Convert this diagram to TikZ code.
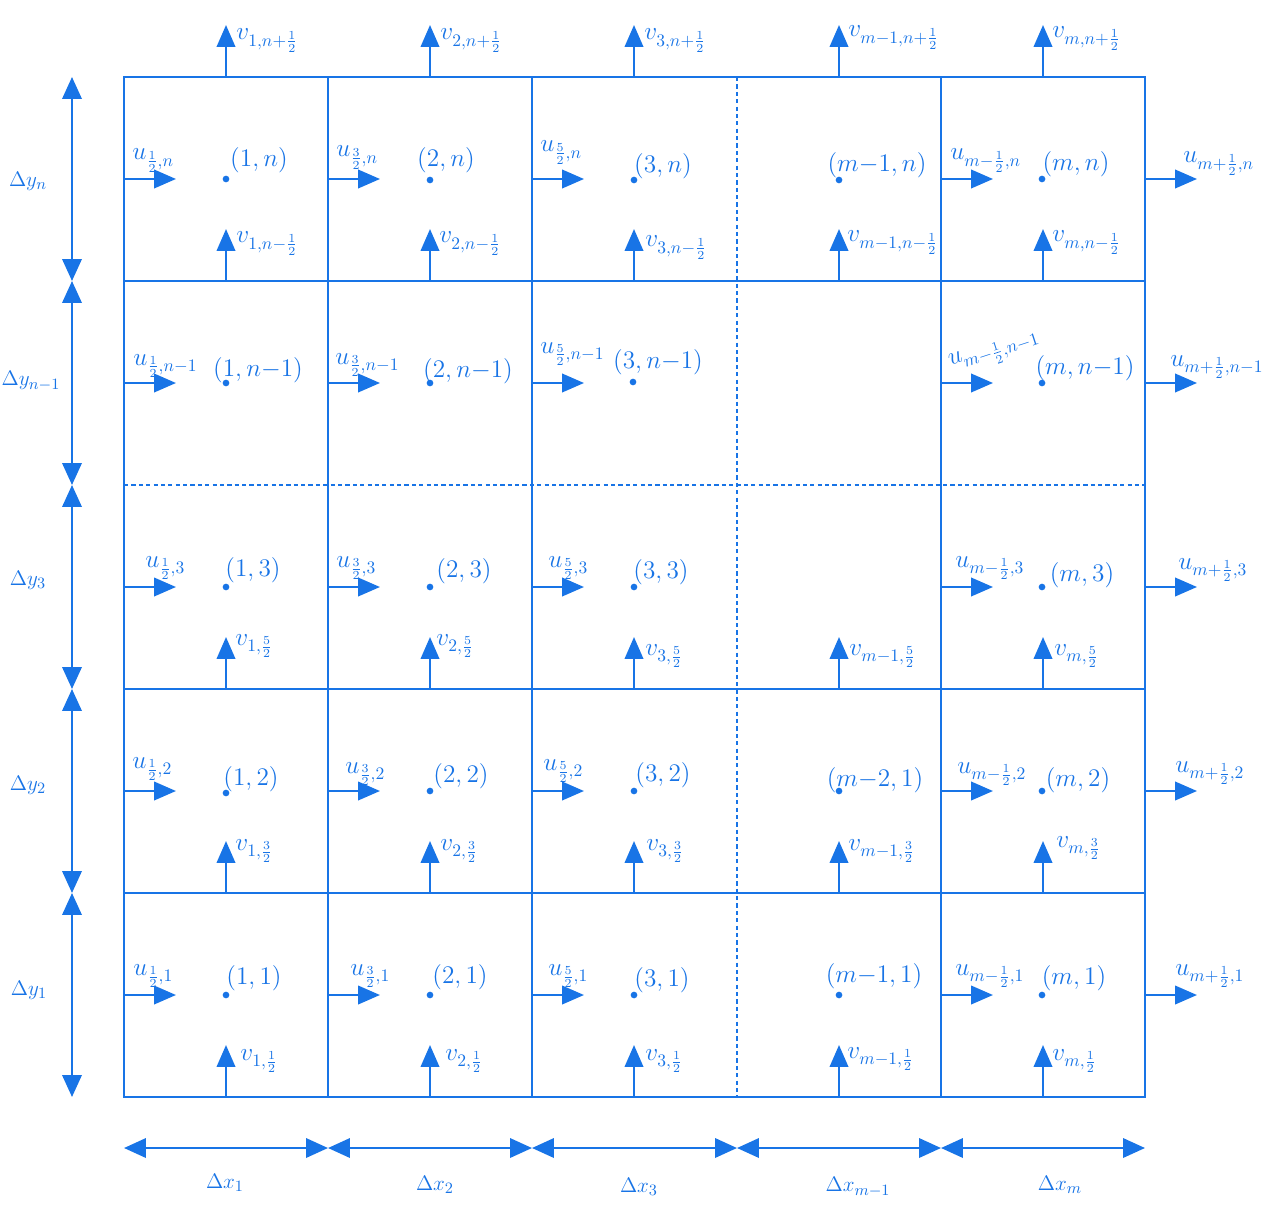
\documentclass[tikz,border=0pt]{standalone}
\usetikzlibrary{arrows.meta}
\definecolor{gblue}{RGB}{24,116,230}
\newcommand{\hfr}[2]{\frac{#1\rule[-0.9pt]{0pt}{0pt}}{\rule{0pt}{5.6pt}#2}}
\begin{document}
\begin{tikzpicture}[x=0.02cm,y=-0.02cm,
  gridl/.style={gblue,line width=1.4pt},
  gridd/.style={gblue,line width=0.9pt,dash pattern=on 2.4pt off 1.8pt},
  vec/.style={gblue,line width=1.4pt,-{Triangle[length=12.5pt,width=10.5pt]}},
  dimarr/.style={gblue,line width=1.4pt,{Triangle[length=12.5pt,width=11pt]}-{Triangle[length=12.5pt,width=11pt]}},
  lab/.style={text=gblue,font=\fontsize{14}{16}\selectfont,inner sep=0pt},
  ul/.style={lab,anchor=base west},
  cl/.style={lab,anchor=center},
  dlab/.style={text=gblue,font=\fontsize{13}{15}\selectfont,inner sep=0pt,anchor=center},
  pt/.style={circle,fill=gblue,inner sep=0pt,minimum size=3.8pt}]
\useasboundingbox (0,0) rectangle (1280,1216);

% grid corners
\foreach \i/\x in {0/124,1/328,2/532,3/737,4/941,5/1145}
  \foreach \j/\y in {0/77,1/281,2/485,3/689,4/893,5/1097}
    \coordinate (g\i\j) at (\x,\y);

% dashed lines
\draw[gridd] (g30) -- (g35);
\draw[gridd] (g02) -- (g52);
% solid lines
\draw[gridl] (g00) rectangle (g55);
\foreach \i in {1,2,4} \draw[gridl] (g\i0) -- (g\i5);
\foreach \j in {1,3,4} \draw[gridl] (g0\j) -- (g5\j);

% u arrows
\foreach \x in {124,328,532,941,1145}
  \foreach \y in {179,383,587,791,995}{
    \coordinate (us-\x-\y) at (\x,\y);
    \coordinate (ue-\x-\y) at (\x+52,\y);
    \draw[vec] (us-\x-\y) -- (ue-\x-\y);
  }
% v arrows
\foreach \x in {226,430,634,839,1043}
  \foreach \y in {77,281,689,893,1097}{
    \coordinate (vs-\x-\y) at (\x,\y);
    \coordinate (ve-\x-\y) at (\x,\y-52);
    \draw[vec] (vs-\x-\y) -- (ve-\x-\y);
  }

% dimension arrows
\foreach \j/\y in {0/77,1/281,2/485,3/689,4/893,5/1097} \coordinate (ly\j) at (72,\y);
\foreach \i/\x in {0/124,1/328,2/532,3/737,4/941,5/1145} \coordinate (lx\i) at (\x,1148);
\foreach \a/\b in {0/1,1/2,2/3,3/4,4/5}{
  \draw[dimarr] (ly\a) -- (ly\b);
  \draw[dimarr] (lx\a) -- (lx\b);
}
\node[dlab] (dyn) at (28,181) {$\Delta y_n$};
\node[dlab] (dyn1) at (31,381) {$\Delta y_{n-1}$};
\node[dlab] (dy3) at (28,580) {$\Delta y_3$};
\node[dlab] (dy2) at (28,785) {$\Delta y_2$};
\node[dlab] (dy1) at (29,990) {$\Delta y_1$};
\node[dlab] (dx1) at (225,1183) {$\Delta x_1$};
\node[dlab] (dx2) at (435,1185) {$\Delta x_2$};
\node[dlab] (dx3) at (639,1187) {$\Delta x_3$};
\node[dlab] (dxm1) at (858,1187) {$\Delta x_{m-1}$};
\node[dlab] (dxm) at (1060,1185) {$\Delta x_m$};

% dots
\foreach \nm/\x/\y in {a1/226/179,a2/430/180,a3/634/180,a4/839/180,a5/1042/179,
  b1/226/383,b2/430/383,b3/633/382,b5/1042/383,
  c1/226/587,c2/430/587,c3/634/587,c5/1042/587,
  d1/226/793,d2/430/791,d3/634/791,d4/839/791,d5/1042/791,
  e1/226/995,e2/430/995,e3/634/995,e4/839/995,e5/1042/995}
  \node[pt] (p\nm) at (\x,\y) {};

% top v labels
\node[ul] (vt1) at (236,40) {$v_{1,n+\hfr{1}{2}}$};
\node[ul] (vt2) at (440,40) {$v_{2,n+\hfr{1}{2}}$};
\node[ul] (vt3) at (644,40) {$v_{3,n+\hfr{1}{2}}$};
\node[ul] (vt4) at (848,37) {$v_{m-1,n+\hfr{1}{2}}$};
\node[ul] (vt5) at (1052,38) {$v_{m,n+\hfr{1}{2}}$};

% row n
\node[ul] (ua1) at (132,160) {$u_{\hfr{1}{2},n}$};
\node[cl] (ca1) at (259,160) {$(1,n)$};
\node[ul] (va1) at (236,243) {$v_{1,n-\hfr{1}{2}}$};
\node[ul] (ua2) at (336,157) {$u_{\hfr{3}{2},n}$};
\node[cl] (ca2) at (446,160) {$(2,n)$};
\node[ul] (va2) at (439,243) {$v_{2,n-\hfr{1}{2}}$};
\node[ul] (ua3) at (540,152) {$u_{\hfr{5}{2},n}$};
\node[cl] (ca3) at (663,166) {$(3,n)$};
\node[ul] (va3) at (645,247) {$v_{3,n-\hfr{1}{2}}$};
\node[cl] (ca4) at (877,165) {$(m{-}1,n)$};
\node[ul] (va4) at (847,242) {$v_{m-1,n-\hfr{1}{2}}$};
\node[ul] (ua5) at (950,160) {$u_{m-\hfr{1}{2},n}$};
\node[cl] (ca5) at (1076,164) {$(m,n)$};
\node[ul] (va5) at (1052,242) {$v_{m,n-\hfr{1}{2}}$};
\node[ul] (ua6) at (1183,163) {$u_{m+\hfr{1}{2},n}$};

% row n-1
\node[ul] (ub1) at (133,365) {$u_{\hfr{1}{2},n-1}$};
\node[cl] (cb1) at (258,370) {$(1,n{-}1)$};
\node[ul] (ub2) at (335,364) {$u_{\hfr{3}{2},n-1}$};
\node[cl] (cb2) at (468,371) {$(2,n{-}1)$};
\node[ul] (ub3) at (540,353) {$u_{\hfr{5}{2},n-1}$};
\node[cl] (cb3) at (658,362) {$(3,n{-}1)$};
\node[ul,rotate=18] (ub5) at (950,366) {$u_{m-\hfr{1}{2},n-1}$};
\node[cl] (cb5) at (1085,368) {$(m,n{-}1)$};
\node[ul] (ub6) at (1170,366) {$u_{m+\hfr{1}{2},n-1}$};

% row 3
\node[ul] (uc1) at (145,567) {$u_{\hfr{1}{2},3}$};
\node[cl] (cc1) at (253,570) {$(1,3)$};
\node[ul] (vc1) at (235,645) {$v_{1,\hfr{5}{2}}$};
\node[ul] (uc2) at (336,567) {$u_{\hfr{3}{2},3}$};
\node[cl] (cc2) at (464,571) {$(2,3)$};
\node[ul] (vc2) at (436,645) {$v_{2,\hfr{5}{2}}$};
\node[ul] (uc3) at (548,567) {$u_{\hfr{5}{2},3}$};
\node[cl] (cc3) at (661,572) {$(3,3)$};
\node[ul] (vc3) at (645,655) {$v_{3,\hfr{5}{2}}$};
\node[ul] (vc4) at (849,655) {$v_{m-1,\hfr{5}{2}}$};
\node[ul] (uc5) at (955,567) {$u_{m-\hfr{1}{2},3}$};
\node[cl] (cc5) at (1082,575) {$(m,3)$};
\node[ul] (vc5) at (1054,655) {$v_{m,\hfr{5}{2}}$};
\node[ul] (uc6) at (1178,569) {$u_{m+\hfr{1}{2},3}$};

% row 2
\node[ul] (ud1) at (132,768) {$u_{\hfr{1}{2},2}$};
\node[cl] (cd1) at (251,779) {$(1,2)$};
\node[ul] (vd1) at (235,850) {$v_{1,\hfr{3}{2}}$};
\node[ul] (ud2) at (345,773) {$u_{\hfr{3}{2},2}$};
\node[cl] (cd2) at (461,776) {$(2,2)$};
\node[ul] (vd2) at (440,850) {$v_{2,\hfr{3}{2}}$};
\node[ul] (ud3) at (543,770) {$u_{\hfr{5}{2},2}$};
\node[cl] (cd3) at (663,775) {$(3,2)$};
\node[ul] (vd3) at (646,850) {$v_{3,\hfr{3}{2}}$};
\node[cl] (cd4) at (875,780) {$(m{-}2,1)$};
\node[ul] (vd4) at (848,850) {$v_{m-1,\hfr{3}{2}}$};
\node[ul] (ud5) at (957,773) {$u_{m-\hfr{1}{2},2}$};
\node[cl] (cd5) at (1078,780) {$(m,2)$};
\node[ul] (vd5) at (1056,847) {$v_{m,\hfr{3}{2}}$};
\node[ul] (ud6) at (1175,772) {$u_{m+\hfr{1}{2},2}$};

% row 1
\node[ul] (ue1) at (133,975) {$u_{\hfr{1}{2},1}$};
\node[cl] (ce1) at (254,978) {$(1,1)$};
\node[ul] (ve1) at (240,1060) {$v_{1,\hfr{1}{2}}$};
\node[ul] (ue2) at (350,975) {$u_{\hfr{3}{2},1}$};
\node[cl] (ce2) at (460,977) {$(2,1)$};
\node[ul] (ve2) at (445,1060) {$v_{2,\hfr{1}{2}}$};
\node[ul] (ue3) at (548,975) {$u_{\hfr{5}{2},1}$};
\node[cl] (ce3) at (662,980) {$(3,1)$};
\node[ul] (ve3) at (645,1060) {$v_{3,\hfr{1}{2}}$};
\node[cl] (ce4) at (874,976) {$(m{-}1,1)$};
\node[ul] (ve4) at (847,1058) {$v_{m-1,\hfr{1}{2}}$};
\node[ul] (ue5) at (955,975) {$u_{m-\hfr{1}{2},1}$};
\node[cl] (ce5) at (1074,978) {$(m,1)$};
\node[ul] (ve5) at (1052,1060) {$v_{m,\hfr{1}{2}}$};
\node[ul] (ue6) at (1175,975) {$u_{m+\hfr{1}{2},1}$};
\end{tikzpicture}
\end{document}
